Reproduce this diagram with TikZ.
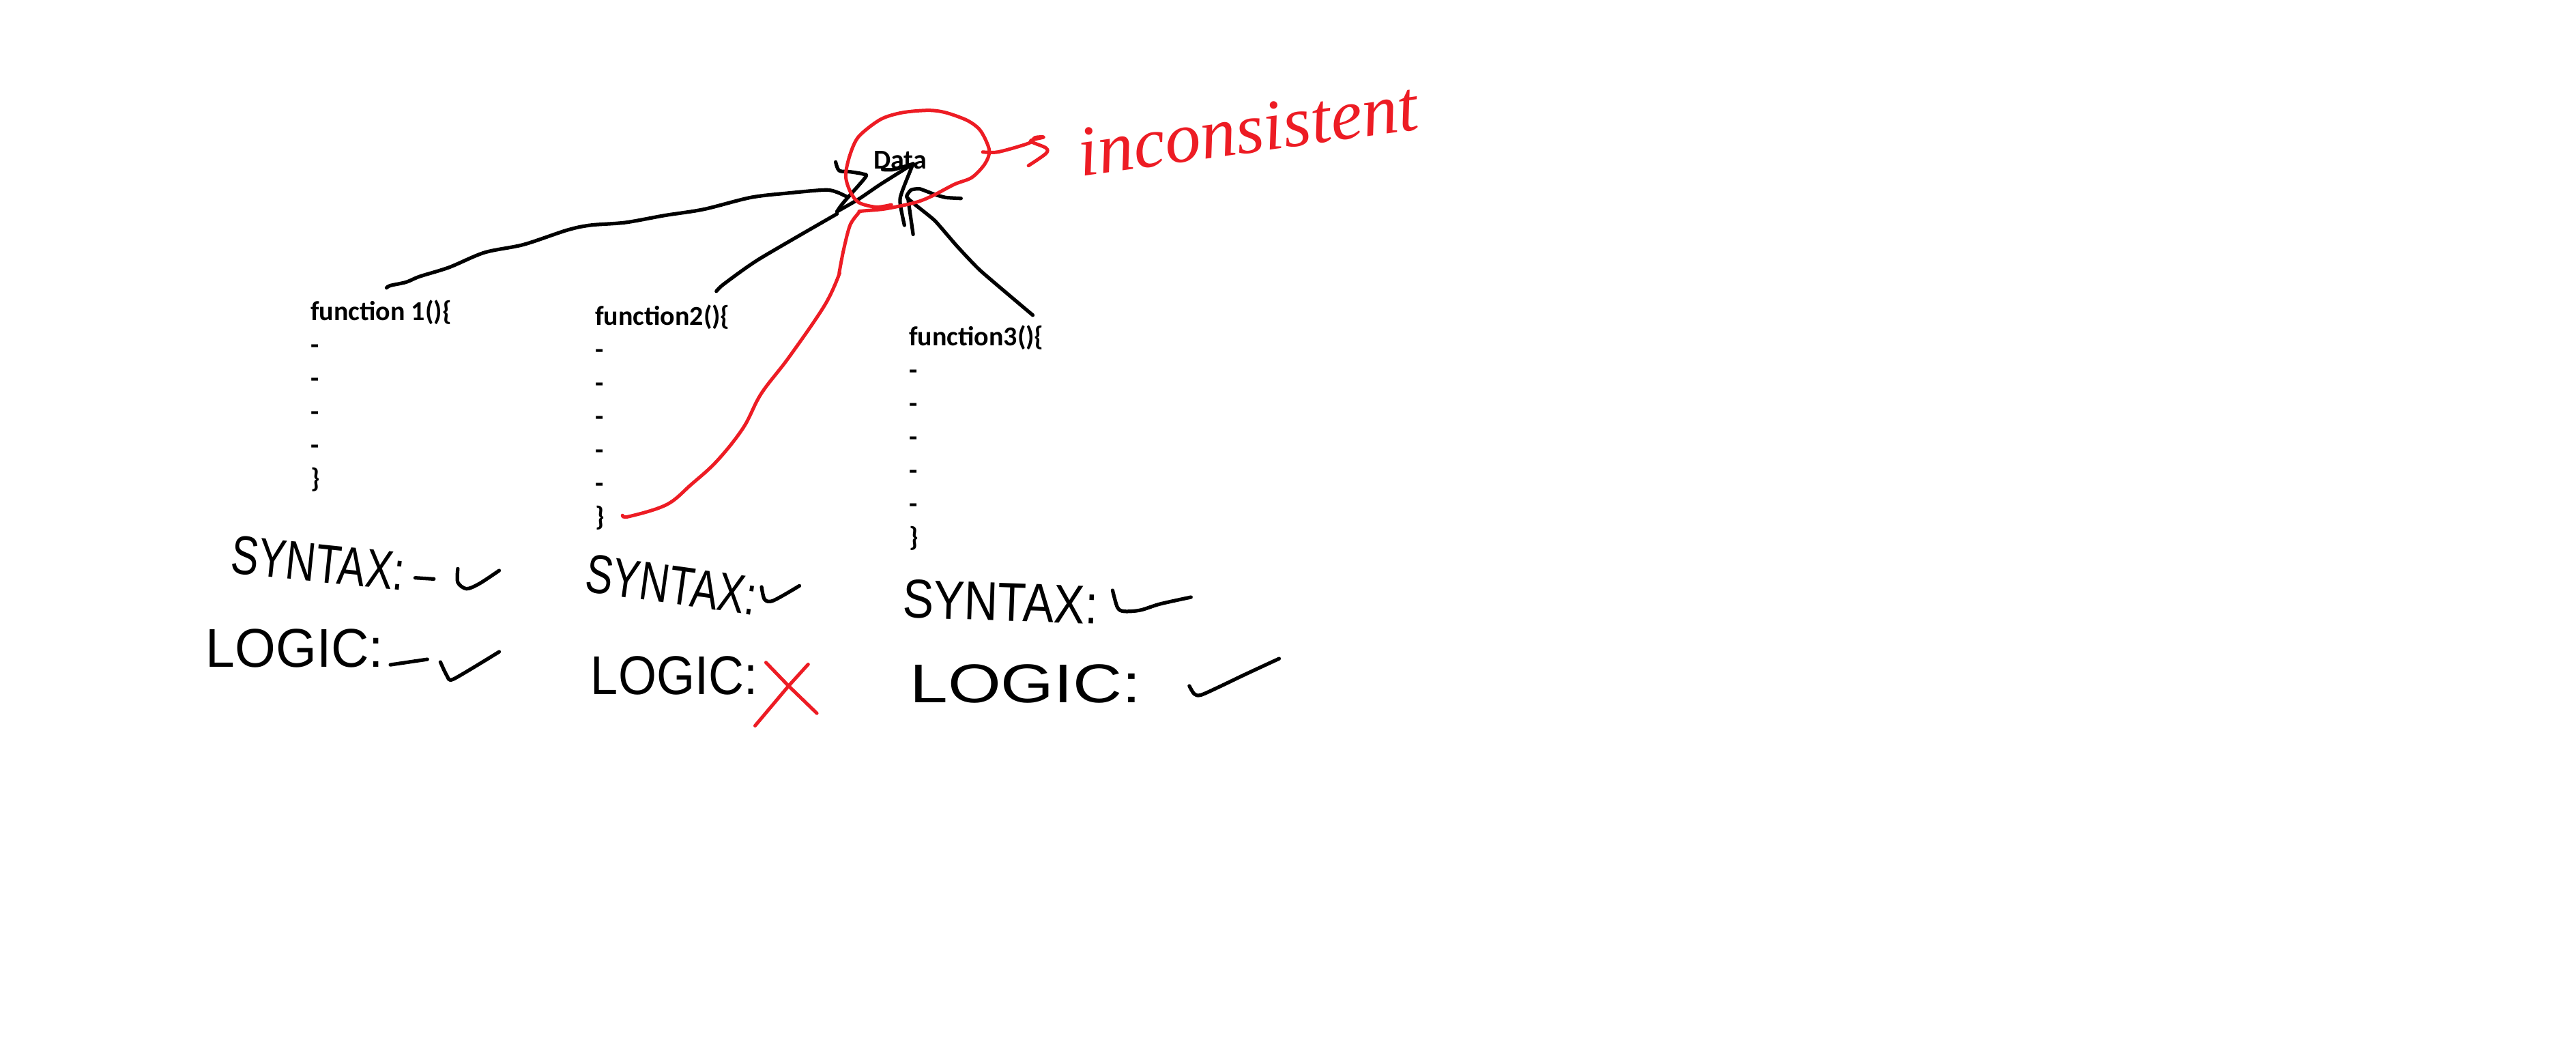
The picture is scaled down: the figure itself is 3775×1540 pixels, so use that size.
\documentclass[tikz,border=0pt]{standalone}
\usepackage{fontspec}
\usepackage{graphicx}
\setmainfont{Carlito}
\newfontfamily\handfont{Liberation Sans}
\newfontfamily\inkserif{Liberation Serif}
\definecolor{inkred}{HTML}{ED1C24}
\newcommand{\handword}[2]{\scalebox{#1}[1]{#2}}
\tikzset{
  ink/.style={draw=black,line width=1.05pt,line cap=round,line join=round},
  redink/.style={draw=inkred,line width=1pt,line cap=round,line join=round},
  codetext/.style={anchor=north west,inner sep=0pt,align=left,font=\fontsize{8}{9.8}\selectfont\bfseries},
  handtext/.style={inner sep=0pt,font=\handfont\fontsize{16}{16}\selectfont},
  zview/.style n args={3}{shift={(#1,#2)},x=#3,y=-0.0667pt},
  zA/.style={zview={1150}{100}{0.12755pt}},
  zB/.style={zview={250}{750}{0.12755pt}},
  zC/.style={zview={1250}{750}{0.0957pt}},
  zD/.style={zview={400}{250}{0.1148pt}},
  zE/.style={zview={850}{400}{0.0957pt}},
}
\begin{document}
\begin{tikzpicture}[x=.2pt,y=-.2pt]
\useasboundingbox[fill=white] (0,0) rectangle (3775,1540);
% printed text
\node[codetext] (dataword) at (1279,221) {Data};
\node[codetext] (fone) at (454,439) {function 1()\{\\-\\-\\-\\-\\\}};
\node[codetext] (ftwo) at (871,446) {function2()\{\\-\\-\\-\\-\\-\\\}};
\node[codetext] (fthree) at (1331,476) {function3()\{\\-\\-\\-\\-\\-\\\}};
% hand lettering
\node[handtext,rotate=-6] (synA) at (466,825) {\handword{.76}{SYNTAX:}};
\node[handtext] (logA) at (432,950) {\handword{.96}{LOGIC:}};
\node[handtext,rotate=-8] (synB) at (984,857) {\handword{.75}{SYNTAX:}};
\node[handtext] (logB) at (988,990) {\handword{.9}{LOGIC:}};
\node[handtext,rotate=-2] (synC) at (1466,882) {\handword{.85}{SYNTAX:}};
\node[handtext] (logC) at (1503,1002) {\handword{1.25}{LOGIC:}};
\node[inner sep=0pt,rotate=8,text=inkred,font=\inkserif\itshape\fontsize{21}{21}\selectfont] (incons) at (1828,190) {inconsistent};
% function 1 stroke to Data
\begin{scope}[zD]
\draw[ink] plot[smooth,tension=.5] coordinates {(290,515)(300,505)(340,490)(375,465)(450,425)(540,360)(640,325)(750,262)(810,240)(900,228)(1000,197)(1100,170)(1220,118)(1320,98)(1410,85)(1440,95)(1465,115)};
\draw[ink] plot[smooth,tension=.4] coordinates {(1132,530)(1150,500)(1240,390)(1440,190)};
\end{scope}
\begin{scope}[zA]
\draw[ink] plot[smooth,tension=.5] coordinates {(120,630)(135,590)(185,480)(180,465)(150,455)(125,450)(117,412)};
\draw[ink] plot[smooth,tension=.3] coordinates {(120,630)(170,575)(220,510)(295,420)};
\draw[ink] plot[smooth,tension=.5] coordinates {(225,445)(250,445)(295,420)};
\draw[ink] plot[smooth,tension=.5] coordinates {(295,420)(270,540)(265,590)(275,690)};
\draw[ink] (283,570) -- (295,730);
\draw[ink] plot[smooth,tension=.3] coordinates {(570,1085)(450,890)(395,780)(345,670)(300,600)(280,565)(290,535)(310,530)(345,555)(370,568)(405,572)};
\end{scope}
% red strokes
\begin{scope}[zE]
\draw[redink] plot[smooth,tension=.6] coordinates {(130,1065)(150,1070)(265,1018)(340,930)(420,825)(500,680)(555,530)(640,370)(750,140)(795,0)};
\end{scope}
\begin{scope}[zA]
\draw[redink] plot[smooth,tension=.5] coordinates {(125,900)(135,800)(150,690)(170,635)(175,628)(230,618)(300,590)(340,560)(390,510)(430,480)(460,420)(470,360)(450,275)(420,230)(370,195)(330,185)(270,195)(220,225)(170,300)(150,380)(140,470)(150,540)(170,590)(210,610)(245,600)};
\draw[redink] plot[smooth,tension=.5] coordinates {(455,368)(490,368)(560,330)(575,305)(595,303)(565,320)(600,350)(600,375)(560,428)};
\end{scope}
% ticks, dashes and the cross
\begin{scope}[zB]
\draw[ink] (562,290) -- (605,295);
\draw[ink] plot[smooth,tension=.5] coordinates {(660,250)(660,310)(680,338)(710,315)(755,258)};
\draw[ink] (505,672) -- (590,648);
\draw[ink] plot[smooth,tension=.4] coordinates {(620,660)(635,720)(650,735)(755,615)};
\draw[ink] plot[smooth,tension=.5] coordinates {(1358,330)(1365,385)(1385,390)(1445,325)};
\draw[redink] (1368,662) -- (1420,765) -- (1485,885);
\draw[redink] (1465,670) -- (1420,765) -- (1343,940);
\end{scope}
\begin{scope}[zC]
\draw[ink] plot[smooth,tension=.5] coordinates {(795,345)(810,420)(830,437)(880,432)(940,405)(1035,375)};
\draw[ink] plot[smooth,tension=.5] coordinates {(1030,765)(1045,800)(1065,805)(1120,770)(1200,715)(1305,645)};
\end{scope}
\end{tikzpicture}
\end{document}
